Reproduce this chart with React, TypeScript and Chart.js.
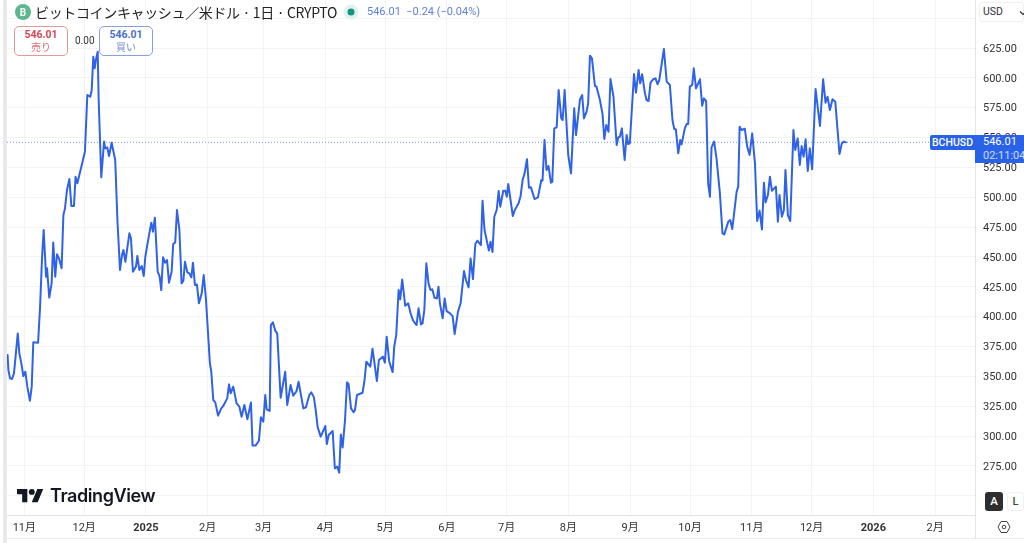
import React, { useEffect, useRef } from "react";
import { Chart, registerables } from "chart.js";

Chart.register(...registerables);

const priceDays = [
0.3,0.7,1.5,2.5,3.5,4.3,5.4,6.2,7.2,8.2,9.2,10.2,11.5,12.4,13.2,15.6,16.6,17.6,18.4,19.6,20.1,21.2,22.4,23.2,24.2,25.1,26.1,27.4,28.3,29.1,
30.1,31.3,32.3,33.6,34.4,35.3,36.3,39.1,40.3,41.8,42.5,43.3,44.0,44.6,45.5,46.0,47.3,48.7,49.3,50.3,51.2,52.5,54.3,55.4,56.7,57.7,58.4,59.4,61.4,62.2,
63.2,64.7,65.4,66.4,67.6,68.6,69.4,71.4,72.4,73.2,74.2,75.6,76.6,77.4,78.3,79.3,80.3,81.3,82.6,83.4,84.4,85.3,86.5,87.6,88.5,89.3,90.5,91.5,92.5,93.3,
94.3,95.3,96.3,97.7,98.7,99.8,101.8,102.5,103.5,104.5,105.9,107.5,108.5,110.5,111.4,112.2,113.5,115.2,116.6,
117.7,119.1,120.6,122.4,123.2,124.7,126.4,127.4,128.6,129.6,130.3,131.8,132.4,133.4,134.6,135.6,137.3,139.6,140.6,142.3,143.6,145.3,146.3,148.7,150.0,151.7,152.7,154.0,154.9,155.9,
157.4,159.7,160.5,161.4,163.4,164.5,165.7,166.7,167.5,168.4,169.6,170.6,171.4,172.6,173.9,174.6,175.6,178.4,179.4,180.3,182.3,183.4,185.6,186.6,188.6,189.6,190.5,191.8,193.5,194.3,
195.3,196.5,197.3,198.3,199.8,201.3,202.5,203.8,205.5,206.5,207.7,208.5,209.4,210.4,211.5,212.5,213.4,214.5,215.7,216.5,
217.2,218.6,219.6,220.6,222.3,223.6,224.6,226.3,227.6,229.3,230.3,231.6,232.6,233.8,235.0,236.0,237.8,238.6,239.6,241.8,242.6,243.6,244.5,245.7,246.7,247.5,249.0,250.0,250.8,251.5,
253.8,254.8,256.7,257.7,258.7,259.7,260.9,261.9,262.9,264.7,266.4,268.1,268.7,269.7,270.7,271.7,272.9,273.6,274.6,275.8,276.8,278.1,278.8,279.8,281.6,283.0,284.6,285.5,287.5,288.6,
289.5,290.8,291.6,292.5,293.5,295.0,295.8,297.5,298.8,299.7,300.7,301.8,302.8,304.3,305.9,306.7,307.5,308.5,309.9,310.9,311.7,312.5,314.6,315.6,316.9,317.7,318.7,320.1,320.9,321.9,
322.9,324.2,325.4,326.4,327.3,329.6,331.0,332.6,333.9,334.8,335.6,336.8,337.8,338.5,340.1,341.0,341.8,342.6,343.8,344.6,345.7,347.7,348.8,349.7,350.8,351.8,352.7,353.5,354.8,356.0,
357.7,359.0,359.9,361.9,362.9,363.9,366.1,366.9,367.6,368.6,370.2,371.4,372.6,373.9,375.3,376.4,377.6,378.8,379.8,380.6,381.8,382.8,383.8,385.8,386.8,387.6,388.8,389.8,390.6,391.8,
393.0,394.6,395.5,396.7,397.8,398.7,399.7,400.7,401.8,402.8,404.0,405.7,407.9,409.5,410.7,411.7,412.9,414.2,415.6,417.7,418.9,419.9,420.9,
];

const closes = [
367.9,355.3,348.3,347.8,352.5,366.5,386.0,369.3,360.9,350.3,353.9,341.4,329.6,341.4,378.5,378.2,408.4,450.2,472.6,433.5,440.5,415.9,427.9,462.2,433.5,452.2,448.8,440.5,485.1,490.7,
506.1,515.3,492.7,492.7,517.2,511.7,518.6,538.2,585.6,584.2,589.8,617.7,608.0,615.0,621.9,581.4,516.7,546.6,541.0,541.8,534.5,545.7,531.2,480.9,439.1,451.6,455.8,446.0,469.8,465.6,
437.7,441.9,450.8,439.1,442.4,434.0,450.2,469.8,478.7,471.2,482.9,437.7,433.5,422.3,449.7,445.2,447.4,428.5,437.7,460.8,462.2,489.3,472.6,427.9,430.1,446.0,437.1,436.3,432.9,445.2,
426.5,427.0,411.2,419.5,434.9,415.3,360.9,353.9,330.2,328.2,317.1,323.2,325.2,331.6,343.3,335.8,341.4,327.4,324.6,
316.2,326.0,314.0,328.2,292.0,292.0,296.1,315.7,312.1,334.4,322.4,321.0,393.0,395.2,388.3,386.0,332.1,353.9,326.0,342.8,333.8,337.7,345.5,323.2,324.1,334.4,336.6,332.4,321.8,307.3,
299.5,308.4,293.3,300.9,304.2,273.0,274.4,269.3,301.4,290.5,313.4,345.0,343.6,323.2,319.9,321.8,334.4,336.3,346.9,362.3,358.1,373.2,346.1,363.7,366.5,361.5,383.2,362.3,353.6,374.9,
384.6,422.3,414.5,431.2,409.2,411.2,402.8,396.6,393.0,407.0,393.6,394.4,405.6,444.7,427.9,422.3,422.9,415.9,415.3,425.1,
411.2,398.6,415.3,404.7,402.8,400.5,385.5,404.2,411.2,438.2,430.7,424.5,448.8,431.5,460.8,463.6,460.0,497.1,472.6,455.3,462.8,454.1,483.7,489.3,505.2,492.1,505.5,505.5,500.5,511.1,
484.3,489.3,494.9,501.0,514.4,520.0,531.8,508.0,508.3,498.5,499.9,514.4,513.9,547.9,522.8,526.2,512.2,512.8,557.7,558.6,589.8,566.1,564.7,589.8,535.4,520.0,574.5,552.1,582.0,585.6,
566.1,571.7,578.7,618.6,616.3,593.2,592.6,581.4,569.7,548.8,560.5,554.9,599.0,584.2,543.8,550.2,550.7,557.7,531.2,552.1,544.6,545.2,603.2,587.6,606.6,595.4,603.0,587.0,581.4,580.6,
596.0,598.8,599.6,594.6,598.2,624.2,596.8,594.0,564.7,557.2,556.9,536.8,548.0,544.3,557.7,561.3,561.3,592.6,594.0,608.0,591.2,598.8,576.7,582.8,580.6,511.7,500.5,541.8,546.6,532.6,
503.3,469.8,468.9,479.5,480.9,473.4,504.7,508.9,559.1,556.3,557.4,542.4,535.4,553.5,528.4,480.1,488.8,473.1,512.2,495.7,501.9,517.2,505.5,508.9,479.5,501.9,483.7,489.3,522.8,485.1,
480.1,556.3,539.6,549.3,527.0,542.9,534.0,548.5,522.0,541.0,523.4,590.7,559.7,598.8,579.2,584.2,573.1,582.0,580.0,536.2,545.2,546.6,546.01,
];

const lastPrice = 546.01;
const priceTicks = [650,625,600,575,550,525,500,475,450,425,400,375,350,325,300,275,250];
const hiddenPriceTicks = [650, 250];
const monthTickDays = [8.7,38.7,69.7,100.7,128.7,159.7,189.7,220.7,250.7,281.7,312.7,342.7,373.7,403.7,434.7,465.7];
const monthTickLabels = ["11月","12月","2025","2月","3月","4月","5月","6月","7月","8月","9月","10月","11月","12月","2026","2月"];
const boldTickLabels = ["2025", "2026"];
const fontFamily = "Roboto, 'Noto Sans CJK JP', sans-serif";

const abs = (o: React.CSSProperties): React.CSSProperties => ({ position: "absolute", ...o });

function PriceBox({ left, color, border, label }: { left: number; color: string; border: string; label: string }) {
  return (
    <div style={abs({ left, top: 26, width: 54, height: 30, boxSizing: "border-box", border: `1px solid ${border}`, borderRadius: 5, background: "#fff", textAlign: "center", color })}>
      <div style={{ fontSize: 10.5, fontWeight: 700, lineHeight: "13px", marginTop: 1 }}>546.01</div>
      <div style={{ fontSize: 10, lineHeight: "13px", opacity: 0.8 }}>{label}</div>
    </div>
  );
}

export default function App() {
  const ref = useRef<HTMLCanvasElement | null>(null);
  useEffect(() => {
    if (!ref.current) return;
    const chart = new Chart(ref.current, {
      type: "line",
      data: {
        datasets: [
          {
            data: priceDays.map((d, i) => ({ x: d, y: closes[i] })),
            borderColor: "#2f62e6",
            borderWidth: 2,
            borderJoinStyle: "round",
            borderCapStyle: "round",
            pointRadius: 0,
            tension: 0,
            order: 1,
          },
          {
            data: [{ x: 0, y: lastPrice }, { x: 485.7, y: lastPrice }],
            borderColor: "#7f9be0",
            borderWidth: 1,
            borderDash: [1, 2],
            pointRadius: 0,
            order: 2,
          },
        ],
      },
      options: {
        responsive: false,
        animation: false,
        layout: { autoPadding: false, padding: { left: 7, top: 0, right: 0, bottom: 0 } },
        plugins: { legend: { display: false }, tooltip: { enabled: false } },
        scales: {
          x: {
            type: "linear",
            min: 0,
            max: 485.7,
            afterBuildTicks: (s: any) => { s.ticks = monthTickDays.map((value) => ({ value })); },
            afterFit: (s: any) => { s.height = 28; s.paddingLeft = 0; s.paddingRight = 0; },
            grid: { color: "#f3f3f3", drawTicks: false },
            border: { color: "#e4e4e4" },
            ticks: {
              autoSkip: false,
              maxRotation: 0,
              padding: 7,
              color: "#333",
              font: (c: any) => ({
                family: fontFamily,
                size: 11,
                weight: boldTickLabels.includes(monthTickLabels[c.index]) ? "bold" : "normal",
              }),
              callback: (_v: any, i: number) => monthTickLabels[i],
            },
          },
          y: {
            position: "right",
            min: 233.9,
            max: 665.2,
            afterBuildTicks: (s: any) => { s.ticks = priceTicks.map((value) => ({ value })); },
            afterFit: (s: any) => { s.width = 49; s.paddingTop = 0; s.paddingBottom = 0; },
            grid: { color: "#f3f3f3", drawTicks: false },
            border: { color: "#e4e4e4" },
            ticks: {
              padding: 8,
              labelOffset: 1,
              color: "#333",
              font: { family: fontFamily, size: 11 },
              callback: (v: any) => (hiddenPriceTicks.includes(Number(v)) ? "" : Number(v).toFixed(2)),
            },
          },
        },
      },
    } as any);
    return () => chart.destroy();
  }, []);

  return (
    <div style={{ position: "fixed", left: 0, top: 0, width: 1024, height: 543, background: "#fff", overflow: "hidden", fontFamily, color: "#222" }}>
      <canvas ref={ref} width={1024} height={543} style={{ display: "block", position: "absolute", left: 0, top: 0 }} />

      <div style={abs({ left: 3, top: 0, width: 4, height: 543, background: "#e9e9e9" })} />
      <div style={abs({ left: 7, top: 538, width: 1017, height: 1, background: "#ececec" })} />

      <svg width="16" height="16" viewBox="0 0 16 16" style={abs({ left: 15, top: 4 })}>
        <circle cx="8" cy="8" r="8" fill="#5cb78f" />
        <text x="8" y="11.5" textAnchor="middle" fontSize="10" fontWeight="700" fill="#fff" fontFamily="Roboto">B</text>
      </svg>
      <div style={abs({ left: 35, top: 3, fontSize: 14, lineHeight: "18px", whiteSpace: "nowrap", color: "#222", fontFamily: "'Noto Sans CJK JP', sans-serif", letterSpacing: -0.35 })}>
        ビットコインキャッシュ／米ドル · 1日 · CRYPTO
      </div>
      <svg width="16" height="16" viewBox="0 0 16 16" style={abs({ left: 343, top: 4 })}>
        <circle cx="8" cy="8" r="7.5" fill="#dff3ee" />
        <circle cx="8" cy="8" r="3.5" fill="#14937f" />
      </svg>
      <div style={abs({ left: 367, top: 5, fontSize: 11, lineHeight: "14px", whiteSpace: "nowrap", color: "#5f80d6" })}>
        546.01&nbsp; −0.24 (−0.04%)
      </div>

      <PriceBox left={14} color="#cf4a55" border="#e09a9a" label="売り" />
      <div style={abs({ left: 75, top: 34, fontSize: 10, lineHeight: "13px", color: "#333" })}>0.00</div>
      <PriceBox left={99} color="#4a70c8" border="#86a0d8" label="買い" />

      <div style={abs({ left: 930, top: 135, width: 45, height: 15, background: "#2962e8", color: "#fff", fontSize: 10.5, fontWeight: 500, lineHeight: "15px", textAlign: "center", borderRadius: "2px 0 0 2px" })}>BCHUSD</div>
      <div style={abs({ left: 975, top: 135, width: 49, height: 28, background: "#2962e8", color: "#fff", overflow: "hidden", whiteSpace: "nowrap" })}>
        <div style={{ fontSize: 11, lineHeight: "14px", marginLeft: 8 }}>546.01</div>
        <div style={{ fontSize: 11, lineHeight: "13px", marginLeft: 8, opacity: 0.75 }}>02:11:04</div>
      </div>

      <div style={abs({ left: 979, top: 2, width: 45, height: 20, background: "#fff", border: "1px solid #f0f0f0", boxSizing: "border-box", borderRadius: 3, fontSize: 10.5, lineHeight: "18px", paddingLeft: 3, color: "#333" })}>USD</div>
      <svg width="8" height="6" viewBox="0 0 8 6" style={abs({ left: 1019, top: 10 })}>
        <path d="M1 1.5 L4 4.5 L7 1.5" fill="none" stroke="#333" strokeWidth="1.2" />
      </svg>

      <svg width="26.6" height="20.7" viewBox="0 0 36 28" style={abs({ left: 17, top: 486 })}>
        <path d="M14 22H7V11H0V4h14v18zM28 22h-8l7.5-18h8L28 22z" fill="#131722" />
        <circle cx="20" cy="8" r="4" fill="#131722" />
      </svg>
      <div style={abs({ left: 50, top: 484, fontSize: 18, fontWeight: 600, lineHeight: "24px", color: "#131722", fontFamily: "Inter, sans-serif", letterSpacing: -0.4, whiteSpace: "nowrap" })}>TradingView</div>

      <div style={abs({ left: 985, top: 492, width: 18, height: 19, background: "#2e2e2e", color: "#fff", borderRadius: 3, fontSize: 11.5, fontWeight: 500, lineHeight: "19px", textAlign: "center" })}>A</div>
      <div style={abs({ left: 1007, top: 492, width: 17, height: 19, background: "#fff", border: "1px solid #f0f0f0", boxSizing: "border-box", color: "#222", borderRadius: 3, fontSize: 11.5, lineHeight: "17px", textAlign: "center" })}>L</div>
      <svg width="14" height="14" viewBox="0 0 14 14" style={abs({ left: 997, top: 520 })}>
        <path d="M4 1.5 H10 L13 7 L10 12.5 H4 L1 7 Z" fill="none" stroke="#444" strokeWidth="1" />
        <circle cx="7" cy="7" r="1.8" fill="none" stroke="#444" strokeWidth="1" />
      </svg>
      <div style={abs({ left: 975, top: 515, width: 1, height: 23, background: "#e4e4e4" })} />
    </div>
  );
}
